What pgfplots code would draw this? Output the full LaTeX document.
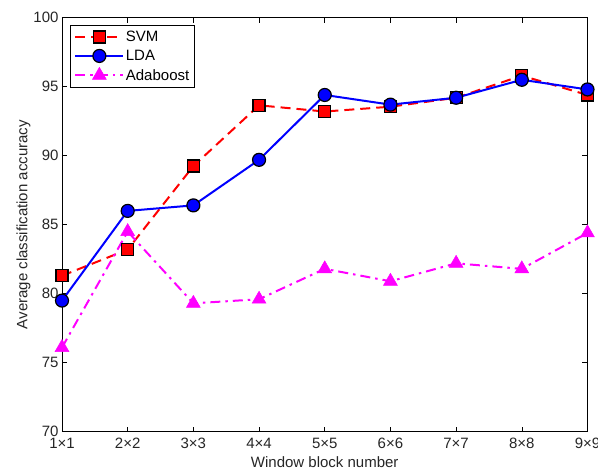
\documentclass[border=0pt]{standalone}
\usepackage{fontspec}
\setmainfont{Liberation Sans}
\usepackage{pgfplots}
\pgfplotsset{compat=1.18}
\definecolor{mred}{RGB}{255,0,0}
\definecolor{mblue}{RGB}{0,0,255}
\definecolor{mmag}{RGB}{255,0,255}
\begin{document}
\begin{tikzpicture}
\begin{axis}[
  scale only axis,
  width=525.5pt, height=414pt,
  xmin=1, xmax=9, ymin=70, ymax=100,
  xtick={1,...,9},
  xticklabels={1×1,2×2,3×3,4×4,5×5,6×6,7×7,8×8,9×9},
  ytick={70,75,...,100},
  tick align=inside,
  major tick length=5pt,
  tick style={black, line width=0.6pt},
  axis line style={black, line width=0.8pt},
  /pgf/number format/assume math mode=true,
  tick label style={font=\fontsize{15}{17}\selectfont, text=black!85},
  xticklabel style={yshift=-3pt},
  label style={font=\fontsize{15}{17}\selectfont, text=black!85},
  xlabel={Window block number},
  ylabel={Average classification accuracy},
  xlabel style={yshift=-1pt},
  ylabel style={yshift=-4pt},
  legend style={at={(0.0152,0.982)}, anchor=north west, draw=black, line width=0.8pt,
    font=\fontsize{15}{17}\selectfont, row sep=4pt, inner sep=4pt,
    nodes={inner sep=1.5pt}},
  legend cell align=left,
  legend image code/.code={
    \draw[mark repeat=2,mark phase=2] plot coordinates {(0pt,0pt) (24pt,0pt) (48pt,0pt)};
  },
]
\addplot[mred, dash pattern=on 10pt off 6pt, line width=2pt, mark=square*, mark size=6pt,
  mark options={solid, fill=mred, draw=black, line width=1.2pt}]
  coordinates {(1,81.3) (2,83.2) (3,89.25) (4,93.65) (5,93.2) (6,93.55) (7,94.2) (8,95.8) (9,94.4)};
\addlegendentry{SVM}
\addplot[mblue, solid, line width=2pt, mark=*, mark size=6.5pt,
  mark options={solid, fill=mblue, draw=black, line width=1.2pt}]
  coordinates {(1,79.5) (2,86.0) (3,86.4) (4,89.7) (5,94.4) (6,93.7) (7,94.2) (8,95.5) (9,94.8)};
\addlegendentry{LDA}
\addplot[mmag, dash pattern=on 10pt off 5pt on 2.5pt off 5pt, line width=2pt, mark=triangle*, mark size=8pt,
  mark options={solid, fill=mmag, draw=mmag, line width=0.5pt}]
  coordinates {(1,76.1) (2,84.5) (3,79.3) (4,79.6) (5,81.8) (6,80.9) (7,82.2) (8,81.8) (9,84.4)};
\addlegendentry{Adaboost}
\end{axis}
\pgfresetboundingbox
\path (current axis.south west) ++(-62pt,-44.3pt) rectangle ++(598pt,476pt);
\end{tikzpicture}
\end{document}
